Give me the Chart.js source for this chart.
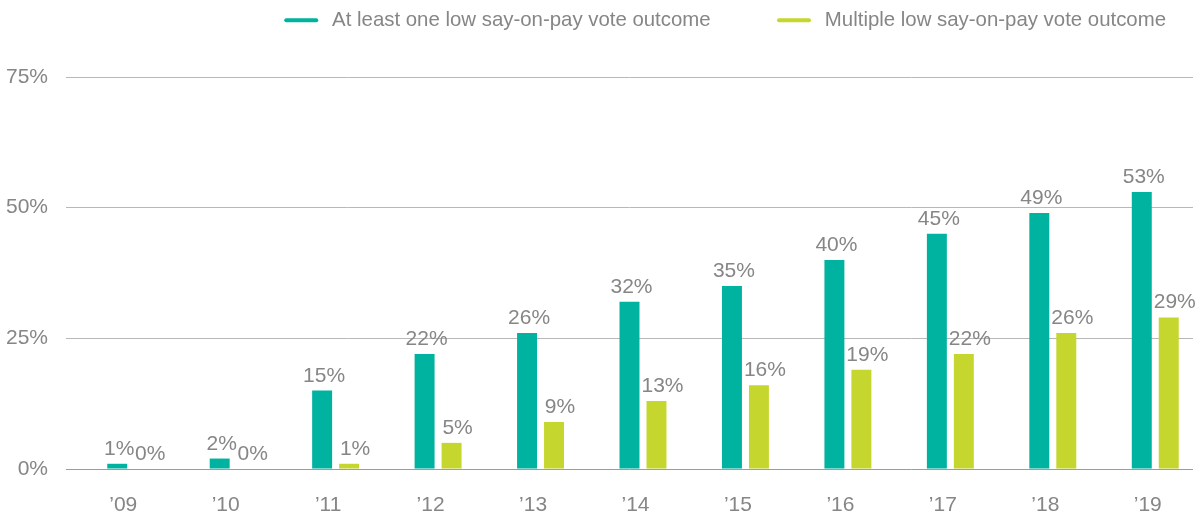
<!DOCTYPE html>
<html><head><meta charset="utf-8">
<script src="https://cdn.jsdelivr.net/npm/chart.js@4"></script>
<style>html,body{margin:0;padding:0;background:#fff}canvas{display:block}</style>
</head><body>
<canvas id="c" width="1203" height="513"></canvas>
<script>
const categories = ["\u201909","\u201910","\u201911","\u201912","\u201913","\u201914","\u201915","\u201916","\u201917","\u201918","\u201919"];
const atLeastOne = [1, 2, 15, 22, 26, 32, 35, 40, 45, 49, 53];
const multiple = [0, 0, 1, 5, 9, 13, 16, 19, 22, 26, 29];
const seriesNames = ["At least one low say-on-pay vote outcome", "Multiple low say-on-pay vote outcome"];
const yTickValues = [0, 25, 50, 75];
const spacer = categories.map(() => null);

const TEAL = '#00B2A0';
const LIME = '#C5D72E';
const GREY = '#868686';
const FONT = "'Liberation Sans', Arial, sans-serif";

const valueLabels = {
  id: 'valueLabels',
  afterDatasetsDraw(chart) {
    const ctx = chart.ctx;
    ctx.save();
    ctx.font = '21px ' + FONT;
    ctx.fillStyle = GREY;
    ctx.textAlign = 'center';
    ctx.textBaseline = 'alphabetic';
    [1, 2].forEach(di => {
      const meta = chart.getDatasetMeta(di);
      const data = chart.data.datasets[di].data;
      meta.data.forEach((bar, i) => {
        const dx = di === 2 ? 6 : 2;
        ctx.fillText(data[i] + '%', bar.x + dx, bar.y - 9);
      });
    });
    ctx.restore();
  }
};

const legendSizer = {
  id: 'legendSizer',
  afterInit(chart) {
    const lg = chart.legend;
    if (lg) {
      const orig = lg.fit.bind(lg);
      lg.fit = function () { orig(); this.height = 77; };
    }
  }
};

const labelPads = ['          \u200A', '   '];

new Chart(document.getElementById('c'), {
  type: 'bar',
  data: {
    labels: categories,
    datasets: [
      { label: '', data: spacer, backgroundColor: 'rgba(0,0,0,0)' },
      { label: seriesNames[0], data: atLeastOne, backgroundColor: TEAL },
      { label: seriesNames[1], data: multiple, backgroundColor: LIME }
    ]
  },
  options: {
    responsive: false,
    animation: false,
    layout: { padding: { left: 0, right: 10, top: 0, bottom: 0 } },
    datasets: { bar: { categoryPercentage: 0.79, barPercentage: 0.74 } },
    plugins: {
      tooltip: { enabled: false },
      legend: {
        position: 'top',
        align: 'end',
        labels: {
          padding: 10,
          color: GREY,
          font: { family: FONT, size: 20.4 },
          usePointStyle: true,
          pointStyleWidth: 30,
          boxHeight: 20,
          generateLabels(chart) {
            return [1, 2].map((di, k) => ({
              text: ' ' + seriesNames[k] + labelPads[k],
              fillStyle: chart.data.datasets[di].backgroundColor,
              strokeStyle: chart.data.datasets[di].backgroundColor,
              lineWidth: 4,
              lineCap: 'round',
              pointStyle: 'line',
              fontColor: GREY,
              hidden: false,
              datasetIndex: di
            }));
          }
        }
      }
    },
    scales: {
      x: {
        grid: { display: false, drawTicks: false },
        border: { display: false },
        ticks: { color: GREY, font: { family: FONT, size: 21 }, padding: 24, labelOffset: 6 },
        afterFit(s) { s.height = 44; }
      },
      y: {
        min: 0, max: 75,
        afterBuildTicks(s) { s.ticks = yTickValues.map(v => ({ value: v })); },
        grid: {
          drawTicks: false,
          color: ctx => ctx.tick && ctx.tick.value === 0 ? '#9c9c9c' : '#b8b8b8',
          lineWidth: 1
        },
        border: { display: false },
        ticks: { color: GREY, font: { family: FONT, size: 21 }, padding: 18, callback: v => v + '%' },
        afterFit(s) { s.width = 66; }
      }
    }
  },
  plugins: [valueLabels, legendSizer]
});
</script>
</body></html>
